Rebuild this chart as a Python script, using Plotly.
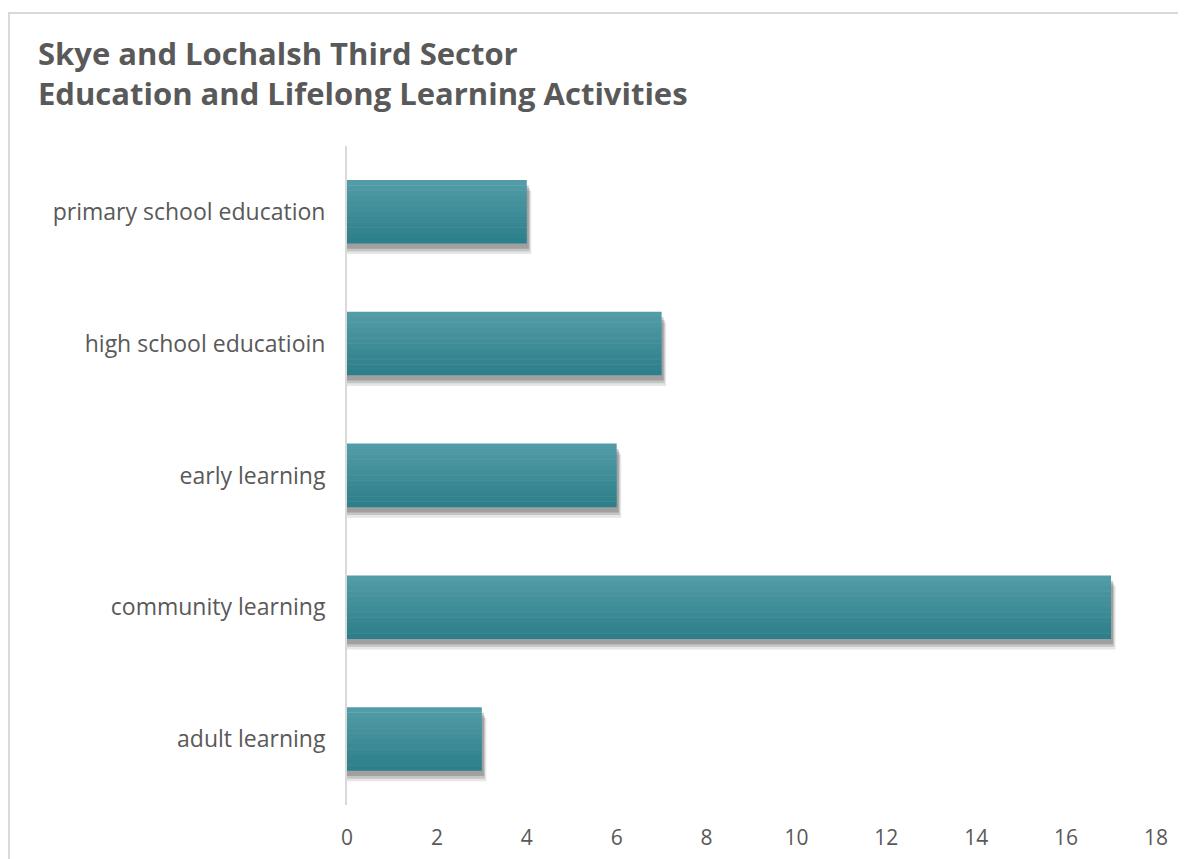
import plotly.graph_objects as go

categories = ["adult learning", "community learning", "early learning",
              "high school educatioin", "primary school education"]
values = [3, 17, 6, 7, 4]
x_ticks = [0, 2, 4, 6, 8, 10, 12, 14, 16, 18]

title_text = "<b>Skye and Lochalsh Third Sector<br>Education and Lifelong Learning Activities</b>"

# page body has an 8px default margin; figure sized to fit inside the window
OFF = 8
W, H = 1186 - OFF, 859 - OFF
L, R, T, B = 347 - OFF, 30, 146 - OFF, 54
font_family = "'Open Sans', sans-serif"
text_col = "#595959"

fig = go.Figure()

bar_w = 0.48
# soft shadow
for dx, dy, op in [(0.10, 0.08, 0.12), (0.07, 0.06, 0.18), (0.045, 0.04, 0.25)]:
    fig.add_trace(go.Bar(
        y=categories, x=[v + dx for v in values], orientation="h",
        width=bar_w, offset=-bar_w / 2 - dy,
        marker=dict(color=f"rgba(50,50,50,{op})", line=dict(width=0)),
        hoverinfo="skip", showlegend=False))

# gradient bands (top lighter, bottom darker)
top_rgb = (81, 156, 166)
bot_rgb = (45, 127, 139)
n = 12
band = bar_w / n
for i in range(n):
    t = i / (n - 1)
    c = tuple(round(bot_rgb[j] + (top_rgb[j] - bot_rgb[j]) * t) for j in range(3))
    fig.add_trace(go.Bar(
        y=categories, x=values, orientation="h",
        width=band * 1.05, offset=-bar_w / 2 + i * band,
        marker=dict(color=f"rgb{c}", line=dict(width=0)),
        hoverinfo="skip" if i else "x+y", showlegend=False))

fig.update_layout(
    width=W, height=H,
    margin=dict(l=L, r=R, t=T, b=B, autoexpand=False),
    barmode="overlay",
    paper_bgcolor="white", plot_bgcolor="white",
    font=dict(family=font_family, color=text_col),
    title=dict(text=title_text, x=(38 - OFF) / W, xanchor="left", y=1 - (65 - OFF) / H, yanchor="top",
               font=dict(size=31, color=text_col, family=font_family)),
    xaxis=dict(range=[0, 18], tickvals=x_ticks, showgrid=False, zeroline=False,
               showline=False, ticks="outside", ticklen=14, tickcolor="rgba(0,0,0,0)",
               tickfont=dict(size=21, color=text_col), automargin=False),
    yaxis=dict(categoryorder="array", categoryarray=categories, showgrid=False,
               zeroline=False, showline=True, linecolor="#d9d9d9", linewidth=2,
               ticks="outside", ticklen=15, tickcolor="rgba(0,0,0,0)",
               tickfont=dict(size=23, color=text_col), automargin=False),
    shapes=[dict(type="rect", xref="paper", yref="paper",
                 x0=(9 - OFF - L) / (W - L - R), x1=(W + 10 - L) / (W - L - R),
                 y0=-(B + 10) / (H - T - B), y1=(H - (13 - OFF) - B) / (H - T - B),
                 line=dict(color="#d9d9d9", width=2), fillcolor="rgba(0,0,0,0)",
                 layer="below")],
)

fig.write_html("out.html")
